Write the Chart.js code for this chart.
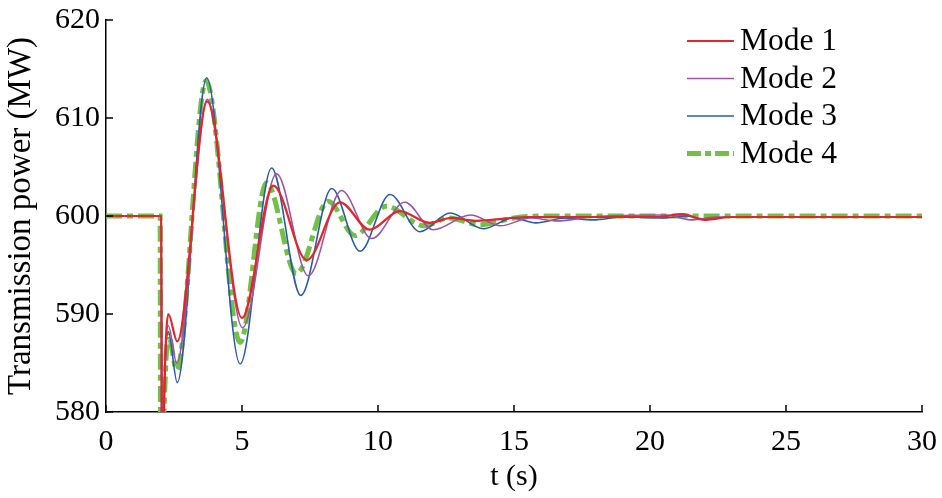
<!DOCTYPE html>
<html>
<head>
<meta charset="utf-8">
<script src="https://cdn.jsdelivr.net/npm/chart.js@4.4.1/dist/chart.umd.min.js"></script>
<style>
html,body{margin:0;padding:0;background:#fff;}
#wrap{width:942px;height:498px;position:relative;}
</style>
</head>
<body>
<div id="wrap"><canvas id="c" width="942" height="498"></canvas></div>
<script>
// ---- data ----
const seriesNames = ['Mode 1', 'Mode 2', 'Mode 3', 'Mode 4'];
const xTicks = [0, 5, 10, 15, 20, 25, 30];
const yTicks = [580, 590, 600, 610, 620];

const mode1T = [0, 2.03, 2.06, 2.13, 2.29, 2.62, 3.72, 5.0, 6.15, 7.38, 8.6, 9.7, 10.8, 11.9, 12.7, 13.6, 15.5, 20.3, 21.2, 22.0, 23.0, 30];
const mode1P = [600, 600, 565, 580, 590.0, 587.2, 611.7, 589.6, 603.1, 595.5, 601.4, 598.6, 600.5, 599.3, 599.8, 599.5, 599.9, 599.9, 600.2, 599.6, 599.9, 599.9];

const mode2T = [0, 2.03, 2.06, 2.13, 2.29, 2.6, 3.72, 5.02, 6.27, 7.44, 8.66, 9.77, 10.99, 12.03, 13.4, 14.5, 15.6, 16.6, 17.8, 20.6, 21.5, 22.5, 30];
const mode2P = [600, 600, 565, 580, 588.8, 585.0, 611.9, 588.6, 604.3, 593.9, 602.6, 597.7, 601.4, 598.6, 600.1, 599.0, 599.8, 599.5, 599.9, 600.1, 599.6, 599.9, 599.9];

const mode3T = [0, 2.03, 2.06, 2.13, 2.29, 2.62, 3.70, 4.93, 6.09, 7.16, 8.3, 9.34, 10.44, 11.54, 12.65, 13.87, 14.97, 15.8, 16.9, 17.9, 19.0, 20.5, 21.3, 22.0, 23.0, 30];
const mode3P = [600, 600, 565, 580, 588.2, 583.0, 614.1, 584.9, 604.9, 591.9, 602.8, 596.4, 602.2, 598.4, 600.3, 598.7, 599.8, 599.3, 599.8, 599.6, 599.9, 599.8, 600.0, 599.7, 599.9, 599.9];

const mode4T = [0, 1.99, 2.01, 2.12, 2.29, 2.6, 3.68, 4.93, 5.9, 7.0, 8.17, 9.15, 10.3, 11.7, 12.6, 13.75, 15.0, 16.0, 30];
const mode4P = [600, 600, 566, 579, 587.9, 584.3, 613.8, 587.1, 603.4, 594.1, 601.5, 598.0, 601.0, 599.0, 599.8, 599.1, 599.8, 600.0, 600.0];

const seriesColors = ['#e3262c', '#9b55a6', '#2b5ba8', '#72c046'];

// ---- build ----
function pts(t, p){ return t.map((v, i) => ({x: v, y: p[i]})); }
const FONT = '"Liberation Serif"';
Chart.defaults.font.family = FONT;

const datasets = [
  {label: seriesNames[0], data: pts(mode1T, mode1P), borderColor: seriesColors[0], borderWidth: 2.2, borderDash: []},
  {label: seriesNames[1], data: pts(mode2T, mode2P), borderColor: seriesColors[1], borderWidth: 1.6, borderDash: []},
  {label: seriesNames[2], data: pts(mode3T, mode3P), borderColor: seriesColors[2], borderWidth: 1.6, borderDash: []},
  {label: seriesNames[3], data: pts(mode4T, mode4P), borderColor: seriesColors[3], borderWidth: 5, borderDash: [16, 5, 6, 5]}
].map(d => Object.assign(d, {pointRadius: 0, fill: false, cubicInterpolationMode: 'monotone', backgroundColor: d.borderColor}));

// inward ticks + legend inside the plot
const decor = {
  id: 'decor',
  afterDatasetsDraw(chart) {
    const {ctx, chartArea: a, scales: {x, y}} = chart;
    ctx.save();
    ctx.strokeStyle = '#000';
    ctx.lineWidth = 1.5;
    const L = 7;
    xTicks.forEach(v => {
      const px = x.getPixelForValue(v);
      ctx.beginPath(); ctx.moveTo(px, a.bottom); ctx.lineTo(px, a.bottom - L); ctx.stroke();
    });
    yTicks.forEach(v => {
      const py = y.getPixelForValue(v);
      ctx.beginPath(); ctx.moveTo(a.left, py); ctx.lineTo(a.left + L, py); ctx.stroke();
    });
    // legend
    const lx0 = a.left + (a.right - a.left) * 0.712;
    const lineLen = 47;
    const rowH = 37.5;
    const top = a.top + 21;
    ctx.font = '31.5px ' + FONT;
    ctx.textBaseline = 'middle';
    ctx.fillStyle = '#000';
    chart.data.datasets.forEach((ds, i) => {
      const yy = top + i * rowH;
      ctx.beginPath();
      ctx.strokeStyle = ds.borderColor;
      ctx.lineWidth = ds.borderWidth;
      ctx.setLineDash(ds.borderDash && ds.borderDash.length ? [14, 4, 6, 4] : []);
      ctx.moveTo(lx0, yy); ctx.lineTo(lx0 + lineLen, yy); ctx.stroke();
      ctx.setLineDash([]);
      ctx.fillText(ds.label, lx0 + lineLen + 6, yy + 1);
    });
    ctx.restore();
  }
};

new Chart(document.getElementById('c'), {
  type: 'line',
  data: {datasets},
  plugins: [decor],
  options: {
    responsive: false,
    animation: false,
    devicePixelRatio: 1,
    layout: {padding: {top: 20, right: 20, left: 0, bottom: 0}},
    plugins: {legend: {display: false}, tooltip: {enabled: false}},
    scales: {
      x: {
        type: 'linear',
        min: xTicks[0], max: xTicks[xTicks.length - 1],
        afterBuildTicks(s){ s.ticks = xTicks.map(v => ({value: v})); },
        afterFit(s){ s.height = 86; s.paddingRight = 0; s.paddingLeft = 0; },
        grid: {display: false, drawTicks: false},
        border: {display: true, color: '#000', width: 1.5},
        ticks: {color: '#000', font: {family: FONT, size: 30}, padding: 12, maxRotation: 0},
        title: {display: true, text: 't (s)', color: '#000', font: {family: FONT, size: 30}, padding: {top: 0, bottom: 3}}
      },
      y: {
        type: 'linear',
        min: yTicks[0], max: yTicks[yTicks.length - 1],
        afterBuildTicks(s){ s.ticks = yTicks.map(v => ({value: v})); },
        afterFit(s){ s.width = 106; s.paddingTop = 0; s.paddingBottom = 0; },
        grid: {display: false, drawTicks: false},
        border: {display: true, color: '#000', width: 1.5},
        ticks: {color: '#000', font: {family: FONT, size: 30}, padding: 6},
        title: {display: true, text: 'Transmission power (MW)', color: '#000', font: {family: FONT, size: 33}, padding: {top: 2, bottom: 0}}
      }
    }
  }
});
</script>
</body>
</html>
